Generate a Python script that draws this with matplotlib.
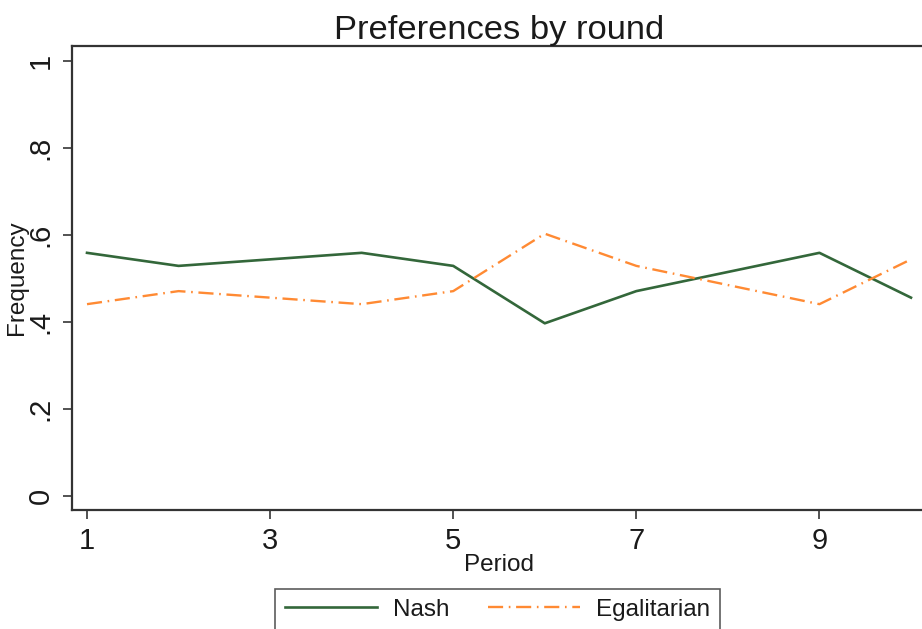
import matplotlib
matplotlib.use('Agg')
import matplotlib.pyplot as plt

# data (shares out of 68 per period)
period = [1, 2, 3, 4, 5, 6, 7, 8, 9, 10]
nash = [0.559, 0.529, 0.544, 0.559, 0.529, 0.397, 0.471, 0.515, 0.559, 0.456]
egal = [0.441, 0.471, 0.456, 0.441, 0.471, 0.603, 0.529, 0.485, 0.441, 0.544]
yticks = [0, 0.2, 0.4, 0.6, 0.8, 1]
ytick_labels = ['0', '.2', '.4', '.6', '.8', '1']
xticks = [1, 3, 5, 7, 9]

plt.rcParams['font.family'] = ['Liberation Sans', 'DejaVu Sans']

W, H = 922, 629
fig = plt.figure(figsize=(W / 100, H / 100), dpi=100)
# axes box in pixels: left 72, right 926 (cut off), top 46, bottom 510
ax = fig.add_axes([72 / W, 1 - 510 / H, (926 - 72) / W, (510 - 46) / H])

ax.plot(period, nash, color='#33673a', lw=1.9, label='Nash')
ax.plot(period, egal, color='#ff8a33', lw=1.7, dashes=[6.4, 2.4, 0.7, 2.4],
        label='Egalitarian')

ax.set_xlim(1 - 15 / 91.5, 10 + 15 / 91.5)
ax.set_ylim(-14 / 435, 1 + 15 / 435)
ax.set_xticks(xticks)
ax.set_yticks(yticks)
ax.set_yticklabels(ytick_labels, rotation=90, va='center')
ax.tick_params(axis='both', length=6.5, width=1.3, color='#444444',
               labelsize=21, labelcolor='#1a1a1a')
ax.tick_params(axis='x', pad=6)
ax.tick_params(axis='y', pad=6)
for s in ax.spines.values():
    s.set_linewidth(1.6)
    s.set_color('#333333')

ax.set_title('Preferences by round', fontsize=24.8, color='#1a1a1a', pad=5)
ax.set_xlabel('Period', fontsize=17.5, color='#1a1a1a', labelpad=-1)
ax.set_ylabel('Frequency', fontsize=17.5, color='#1a1a1a')
ax.yaxis.set_label_coords(-0.052, 0.5)

leg = fig.legend(loc='upper left', bbox_to_anchor=(275 / W, 1 - 589 / H),
                 ncol=2, fontsize=17.5, frameon=True, fancybox=False,
                 handlelength=3.8, handletextpad=0.66, columnspacing=1.56,
                 borderpad=0.4, borderaxespad=0)
leg.get_frame().set_edgecolor('#333333')
leg.get_frame().set_linewidth(1.2)
for t in leg.get_texts():
    t.set_color('#1a1a1a')

fig.savefig('out.png', dpi=100)
